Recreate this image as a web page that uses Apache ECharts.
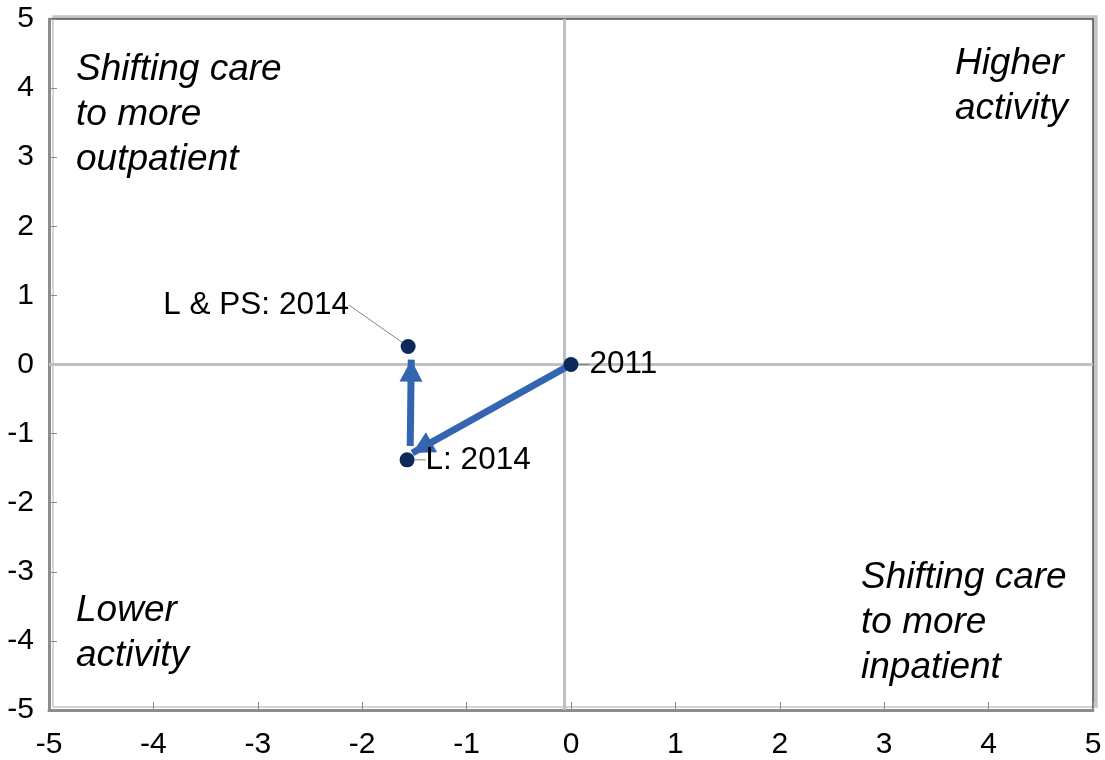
<!DOCTYPE html>
<html>
<head>
<meta charset="utf-8">
<script src="https://cdn.jsdelivr.net/npm/echarts@6/dist/echarts.min.js"></script>
<style>
  html, body { margin: 0; padding: 0; background: #fff; }
  #chart { width: 1105px; height: 760px; }
</style>
</head>
<body>
<div id="chart"></div>
<script>
// points
const pointNames = ['2011', 'L: 2014', 'L & PS: 2014']
const pointX = [0, -1.57, -1.56]
const pointY = [0, -1.38, 0.26]
// arrows (start -> end)
const arrowStartX = [0, -1.54]
const arrowStartY = [0, -1.18]
const arrowEndX = [-1.52, -1.53]
const arrowEndY = [-1.28, 0.07]
// quadrant split lines
const splitX = -0.06
const splitY = 0
// quadrant texts
const quadTopLeft = 'Shifting care\nto more\noutpatient'
const quadTopRight = 'Higher\nactivity'
const quadBottomLeft = 'Lower\nactivity'
const quadBottomRight = 'Shifting care\nto more\ninpatient'

const font = '"Liberation Sans", Arial, sans-serif'
const dotColor = '#0b2a5b'
const arrowColor = '#3465b0'

const chart = echarts.init(document.getElementById('chart'))

const labelPos = ['right', 'right', 'top']
const points = pointNames.map((n, i) => ({
  name: n,
  value: [pointX[i], pointY[i]],
  label: {
    show: true,
    position: labelPos[i],
    distance: i === 2 ? 5 : 11,
    offset: i === 1 ? [0, 4] : [0, 2]
  }
}))

const arrows = arrowStartX.map((x, i) => ({
  coords: [[x, arrowStartY[i]], [arrowEndX[i], arrowEndY[i]]]
}))

const quadText = (txt, pos) => Object.assign({
  type: 'text',
  silent: true,
  style: {
    text: txt,
    font: 'italic 37px ' + font,
    fill: '#000',
    lineHeight: 45
  }
}, pos)

// triangle head in a square box, tip at the middle of the box
const arrowHead = 'path://M0,0L11.5,22L-11.5,22Z M-22,-22L-21.95,-22Z M22,-22L21.95,-22Z'

const option = {
  animation: false,
  backgroundColor: '#fff',
  grid: {
    left: 49,
    right: 12,
    top: 19,
    bottom: 50,
    show: true,
    backgroundColor: '#fff',
    borderColor: '#4d4d4d',
    borderWidth: 1.5,
    shadowColor: '#c4c4c4',
    shadowOffsetX: 4,
    shadowOffsetY: -3,
    shadowBlur: 0
  },
  xAxis: {
    type: 'value',
    min: -5,
    max: 5,
    interval: 1,
    splitLine: { show: false },
    axisLine: { show: true, onZero: false, lineStyle: { color: '#8c8c8c', width: 3 } },
    axisTick: { show: true, inside: true, length: 8, lineStyle: { color: '#8c8c8c', width: 1 } },
    axisLabel: { color: '#000', fontSize: 30, fontFamily: font, margin: 20 }
  },
  yAxis: {
    type: 'value',
    min: -5,
    max: 5,
    interval: 1,
    splitLine: { show: false },
    axisLine: { show: true, onZero: false, lineStyle: { color: '#8c8c8c', width: 3 } },
    axisTick: { show: true, inside: true, length: 8, lineStyle: { color: '#8c8c8c', width: 1 } },
    axisLabel: { color: '#000', fontSize: 30, fontFamily: font, margin: 15 }
  },
  graphic: [
    quadText(quadTopLeft, { left: 76, top: 47 }),
    quadText(quadTopRight, { right: 37, top: 41 }),
    quadText(quadBottomLeft, { left: 76, top: 588 }),
    quadText(quadBottomRight, { left: 861, top: 555 })
  ],
  series: [
    {
      type: 'scatter',
      z: 1,
      silent: true,
      data: [],
      markLine: {
        silent: true,
        symbol: ['none', 'none'],
        label: { show: false },
        lineStyle: { color: '#c0c0c0', width: 3, type: 'solid' },
        data: [{ xAxis: splitX }, { yAxis: splitY }]
      }
    },
    {
      type: 'lines',
      coordinateSystem: 'cartesian2d',
      zlevel: 1,
      z: 3,
      silent: true,
      symbol: ['none', arrowHead],
      symbolSize: 44,
      lineStyle: { color: arrowColor, width: 7, opacity: 1, curveness: 0 },
      data: arrows
    },
    {
      type: 'scatter',
      zlevel: 1,
      z: 4,
      silent: true,
      symbol: 'circle',
      symbolSize: 15,
      itemStyle: { color: dotColor, opacity: 1 },
      label: { color: '#000', fontSize: 31.5, fontFamily: font, formatter: '{b}' },
      labelLine: { show: true, lineStyle: { color: '#808080', width: 1 } },
      labelLayout: function (p) {
        if (p.dataIndex === 2) return { dx: -152, dy: -13 }
        return {}
      },
      data: points
    }
  ]
}

chart.setOption(option)
</script>
</body>
</html>
